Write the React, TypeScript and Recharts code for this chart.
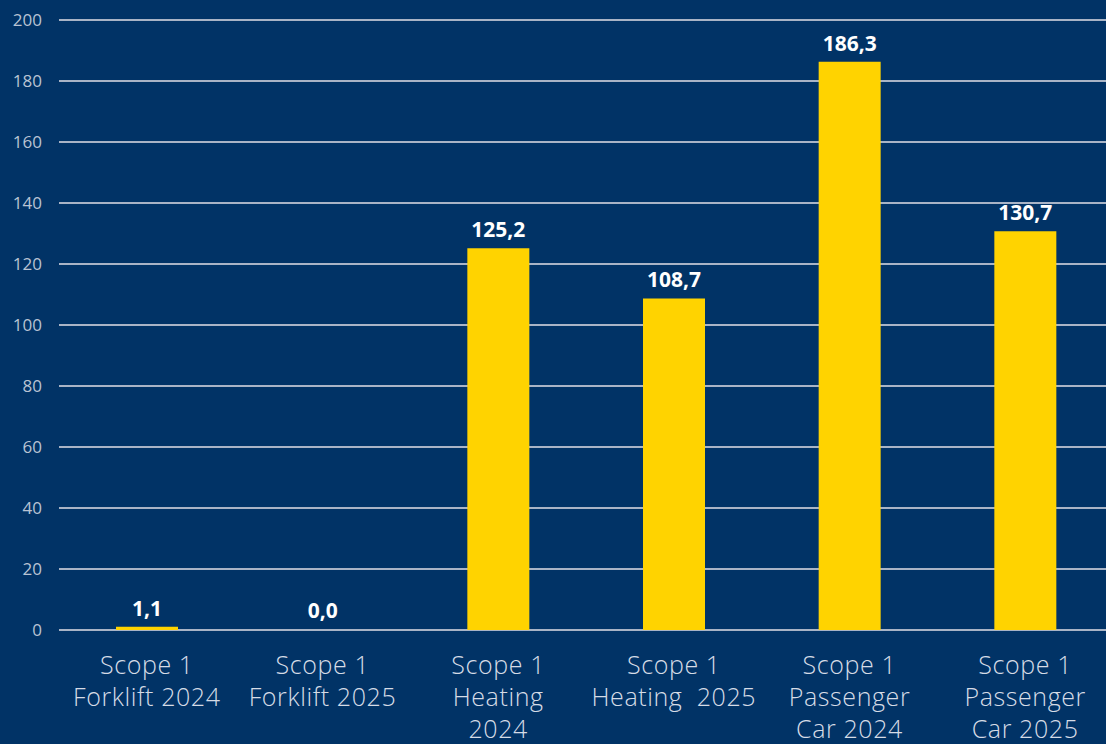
import { BarChart, Bar, XAxis, YAxis, CartesianGrid, LabelList, Rectangle } from 'recharts'

const categories = [
  ['Scope 1', 'Forklift 2024'],
  ['Scope 1', 'Forklift 2025'],
  ['Scope 1', 'Heating', '2024'],
  ['Scope 1', 'Heating  2025'],
  ['Scope 1', 'Passenger', 'Car 2024'],
  ['Scope 1', 'Passenger', 'Car 2025'],
]
const emissions = [1.1, 0.0, 125.2, 108.7, 186.3, 130.7]
const yTicks = [0, 20, 40, 60, 80, 100, 120, 140, 160, 180, 200]

const NAVY = '#013366'
const YELLOW = '#FFD300'
const FONT = '"Open Sans", "Noto Sans", sans-serif'

const chartData = categories.map((lines, i) => ({ key: String(i), value: emissions[i] }))

function formatValue(v: number): string {
  return v.toFixed(1).replace('.', ',')
}

function CategoryTick(props: any) {
  const { x, y, payload } = props
  const lines = categories[Number(payload.value)] || []
  return (
    <text
      x={x}
      y={y}
      textAnchor="middle"
      fill="#d6dce6"
      fontFamily={FONT}
      style={{ whiteSpace: 'pre', fontSize: 25, fontWeight: 300, letterSpacing: 0.6 }}
    >
      {lines.map((l, i) => (
        <tspan key={i} x={x} dy={i === 0 ? 38 : 32}>
          {l}
        </tspan>
      ))}
    </text>
  )
}

function ValueTick(props: any) {
  const { x, y, payload } = props
  return (
    <text x={x} y={y} dy={6} textAnchor="end" fill="#b9c3d3" fontFamily={FONT} fontSize={17}>
      {payload.value}
    </text>
  )
}

// zero-valued bars keep their label but draw nothing
function BarShape(props: any) {
  if (!props.value) return <g />
  return <Rectangle {...props} />
}

export default function App() {
  return (
    <div
      style={{
        position: 'absolute',
        left: 0,
        top: 0,
        width: 1106,
        height: 744,
        overflow: 'hidden',
        background: NAVY,
      }}
    >
      <BarChart width={1113} height={744} data={chartData} margin={{ top: 20, right: 0, bottom: 0, left: 0 }}>
        <CartesianGrid vertical={false} stroke="#a9b4c6" strokeWidth={2} />
        <XAxis
          dataKey="key"
          axisLine={false}
          tickLine={false}
          height={114}
          tickMargin={0}
          interval={0}
          tick={<CategoryTick />}
        />
        <YAxis
          domain={[0, 200]}
          ticks={yTicks}
          width={59}
          axisLine={false}
          tickLine={false}
          tickMargin={11}
          tick={<ValueTick />}
        />
        <Bar
          dataKey="value"
          fill={YELLOW}
          barSize={62}
          minPointSize={1}
          shape={<BarShape />}
          isAnimationActive={false}
        >
          <LabelList
            dataKey="value"
            position="top"
            offset={11}
            formatter={(v: any) => formatValue(Number(v))}
            style={{ fill: '#ffffff', fontSize: 21, fontWeight: 700, fontFamily: FONT }}
          />
        </Bar>
      </BarChart>
    </div>
  )
}
